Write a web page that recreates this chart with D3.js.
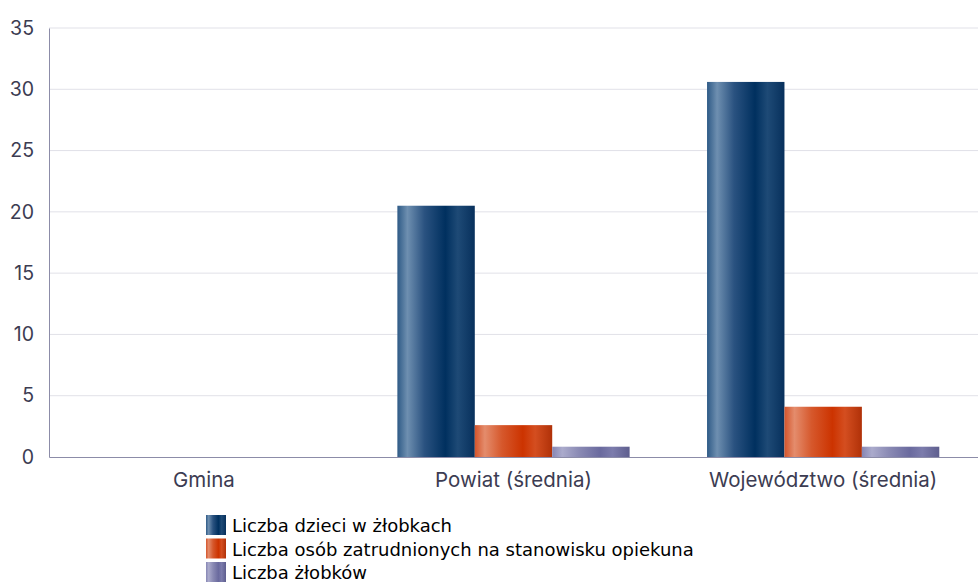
<!DOCTYPE html>
<html><head><meta charset="utf-8">
<script src="https://cdn.jsdelivr.net/npm/d3@7"></script>
<style>body{margin:0;background:#fff}svg{display:block}</style>
</head><body>
<svg id="c" width="978" height="584"></svg>
<script>
const categories = ["Gmina", "Powiat (średnia)", "Województwo (średnia)"];
const seriesNames = ["Liczba dzieci w żłobkach", "Liczba osób zatrudnionych na stanowisku opiekuna", "Liczba żłobków"];
const dzieci = [0, 20.5, 30.6];
const opiekunowie = [0, 2.6, 4.1];
const zlobki = [0, 0.84, 0.84];
const yTicks = [0, 5, 10, 15, 20, 25, 30, 35];

const svg = d3.select("#c");
const m = {l: 49, r: 0, t: 28, b: 127};
const W = 978, H = 584;
const x0 = d3.scaleBand().domain(categories).range([m.l, W - m.r]).paddingInner(0.25).paddingOuter(0.125);
const x1 = d3.scaleBand().domain(seriesNames).range([0, x0.bandwidth()]);
const y = d3.scaleLinear().domain([0, 35]).range([H - m.b, m.t]);

const stops = [
  [["0%","#2e5a86"],["13%","#6e8fb0"],["35%","#2a5280"],["62%","#00305f"],["78%","#1e4a76"],["100%","#07305c"]],
  [["0%","#d4552c"],["13%","#e48c6c"],["35%","#d6582c"],["62%","#cc3300"],["78%","#d44e20"],["100%","#b03108"]],
  [["0%","#8686b4"],["13%","#ababcc"],["35%","#8a8ab4"],["62%","#6a6a9e"],["78%","#7c7cac"],["100%","#5e5e8e"]]
];
const defs = svg.append("defs");
stops.forEach((s, i) => {
  const g = defs.append("linearGradient").attr("id", "g" + i).attr("x1", "0").attr("x2", "1").attr("y1", "0").attr("y2", "0");
  s.forEach(st => g.append("stop").attr("offset", st[0]).attr("stop-color", st[1]));
});

const axisFont = "Inter, 'Noto Sans', sans-serif";
const axisColor = "#3c3c52";

// gridlines
svg.append("g").selectAll("line").data(yTicks.filter(d => d > 0)).join("line")
  .attr("x1", m.l).attr("x2", W).attr("y1", d => y(d)).attr("y2", d => y(d))
  .attr("stroke", "#e1e1e8").attr("stroke-width", 1);

// y axis
const yAxis = d3.axisLeft(y).tickValues(yTicks).tickSize(0).tickPadding(15);
const ya = svg.append("g").attr("transform", `translate(${m.l},0)`).call(yAxis);
ya.select(".domain").attr("stroke", "#8c8ca8");
ya.selectAll("text").attr("font-family", axisFont).attr("font-size", 19.5).attr("fill", axisColor);

// bars
const series = [dzieci, opiekunowie, zlobki];
const rows = [];
categories.forEach((c, ci) => series.forEach((s, si) => rows.push({c, si, v: s[ci]})));
svg.append("g").selectAll("rect").data(rows.filter(d => d.v > 0)).join("rect")
  .attr("x", d => x0(d.c) + x1(seriesNames[d.si]))
  .attr("width", x1.bandwidth())
  .attr("y", d => y(d.v))
  .attr("height", d => y(0) - y(d.v))
  .attr("fill", d => `url(#g${d.si})`);

// x axis
const xAxis = d3.axisBottom(x0).tickSize(0).tickPadding(15);
const xa = svg.append("g").attr("transform", `translate(0,${y(0)})`).call(xAxis);
xa.select(".domain").attr("stroke", "#8c8ca8");
xa.selectAll("text").attr("font-family", axisFont).attr("font-size", 20.5).attr("fill", axisColor);

// legend
const lg = svg.append("g").attr("transform", "translate(206,515)");
seriesNames.forEach((n, i) => {
  const r = lg.append("g").attr("transform", `translate(0,${i * 23.5})`);
  r.append("rect").attr("width", 20).attr("height", 20).attr("fill", `url(#g${i})`);
  r.append("text").attr("x", 26).attr("y", 17).text(n)
    .attr("font-family", "'DejaVu Sans', sans-serif").attr("font-size", 18).attr("fill", "#000");
});
</script>
</body></html>
